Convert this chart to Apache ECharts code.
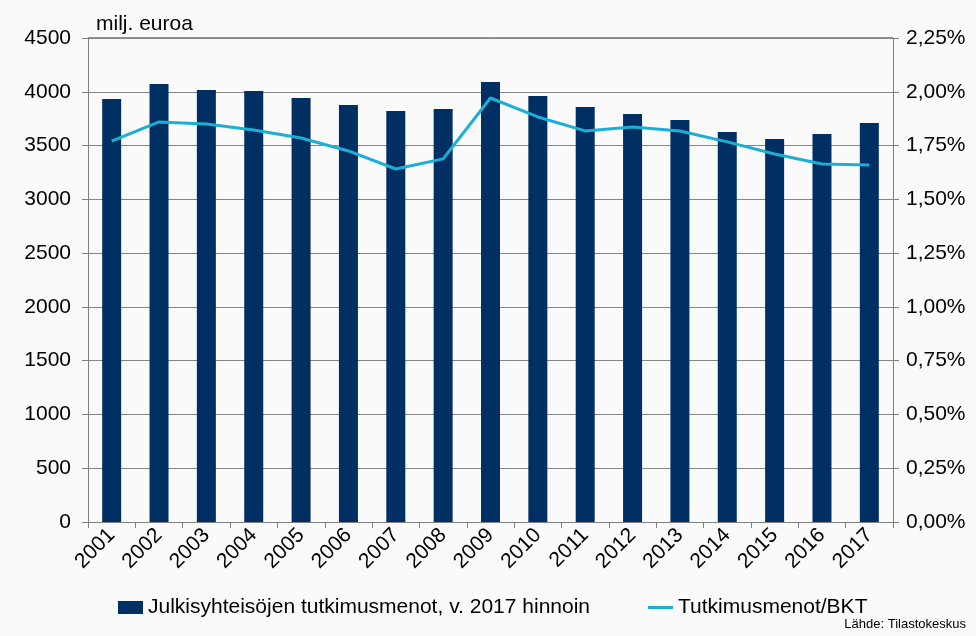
<!DOCTYPE html>
<html><head><meta charset="utf-8">
<script src="https://cdn.jsdelivr.net/npm/echarts@6/dist/echarts.min.js"></script>
<style>html,body{margin:0;padding:0;background:#fafafa}#c{width:976px;height:636px}</style>
</head><body><div id="c"></div>
<script>
const years = ['2001','2002','2003','2004','2005','2006','2007','2008','2009','2010','2011','2012','2013','2014','2015','2016','2017'];
const spending = [3933,4072,4017,4007,3942,3877,3821,3840,4091,3961,3858,3793,3738,3626,3561,3607,3710];
const gdpShare = [1.771,1.860,1.850,1.822,1.785,1.725,1.641,1.688,1.971,1.883,1.818,1.836,1.818,1.767,1.711,1.664,1.660];
const leftTicks = [0,4500,500];
const rightTicks = [0,2.25,0.25];
const barName = 'Julkisyhteisöjen tutkimusmenot, v. 2017 hinnoin';
const lineName = 'Tutkimusmenot/BKT';

const chart = echarts.init(document.getElementById('c'));
const font = 'Liberation Sans, Arial, sans-serif';
chart.setOption({
  backgroundColor: '#fafafa',
  animation: false,
  textStyle: {fontFamily: font},
  grid: {left: 88, right: 83, top: 38, bottom: 114},
  graphic: [
    {type: 'text', left: 96, top: 14, style: {text: 'milj. euroa', font: '21px ' + font, fill: '#000'}},
    {type: 'text', right: 10, top: 618, style: {text: 'Lähde: Tilastokeskus', font: '13px ' + font, fill: '#000'}},
    {type: 'line', shape: {x1: 88, y1: 38, x2: 893, y2: 38}, style: {stroke: '#1f3050', lineWidth: 1}}
  ],
  legend: {
    top: 592, left: 113, itemGap: 58, itemWidth: 25, itemHeight: 13,
    textStyle: {fontSize: 21, color: '#000', fontFamily: font},
    data: [{name: barName, icon: 'rect'}, {name: lineName, icon: 'path://M0,0 L25,0 L25,3 L0,3 Z'}]
  },
  xAxis: {
    type: 'category', data: years, boundaryGap: true,
    axisLine: {lineStyle: {color: '#808080'}},
    axisTick: {show: true, length: 6, lineStyle: {color: '#808080'}, interval: 0},
    axisLabel: {rotate: 45, fontSize: 21, color: '#000', interval: 0, margin: 10}
  },
  yAxis: [
    {type: 'value', min: leftTicks[0], max: leftTicks[1], interval: leftTicks[2],
     axisLine: {show: true, lineStyle: {color: '#808080'}},
     axisTick: {show: true, length: 6, lineStyle: {color: '#808080'}},
     splitLine: {lineStyle: {color: '#858585', width: 1}},
     axisLabel: {fontSize: 21, color: '#000', margin: 17, formatter: v => String(v)}},
    {type: 'value', min: rightTicks[0], max: rightTicks[1], interval: rightTicks[2],
     axisLine: {show: true, lineStyle: {color: '#808080'}},
     axisTick: {show: true, length: 6, lineStyle: {color: '#808080'}},
     splitLine: {show: false},
     axisLabel: {fontSize: 21, color: '#000', margin: 13,
       formatter: v => v.toFixed(2).replace('.', ',') + '%'}}
  ],
  series: [
    {name: barName, type: 'bar', data: spending, barWidth: 19, itemStyle: {color: '#003063'}, yAxisIndex: 0},
    {name: lineName, type: 'line', data: gdpShare, yAxisIndex: 1, symbol: 'none',
     lineStyle: {color: '#1bafd6', width: 3}, itemStyle: {color: '#1bafd6'}}
  ]
});
</script></body></html>
